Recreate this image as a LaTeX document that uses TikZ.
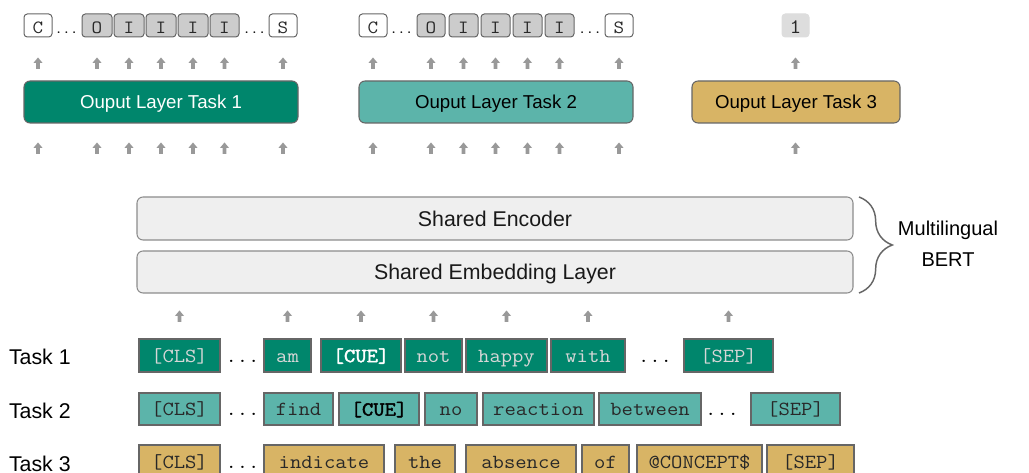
\documentclass[tikz,border=0pt]{standalone}
\usepackage{fontspec}
\setmainfont{Liberation Sans}
\setmonofont{Latin Modern Mono}[FakeStretch=1.1, BoldFont={Latin Modern Mono}, BoldFeatures={FakeBold=2.2}]
\usetikzlibrary{decorations.pathreplacing}
\definecolor{tA}{RGB}{0,134,108}
\definecolor{tB}{RGB}{92,180,170}
\definecolor{tC}{RGB}{216,180,101}
\definecolor{bord}{RGB}{102,102,102}
\definecolor{arr}{RGB}{153,153,153}
\definecolor{encf}{RGB}{239,239,239}
\definecolor{encd}{RGB}{140,140,140}
\definecolor{tokg}{RGB}{204,204,204}
\definecolor{onef}{RGB}{221,221,221}
\definecolor{lighttxt}{RGB}{215,215,215}
\definecolor{darktxt}{RGB}{40,40,40}
\newcommand\bx[7]{\node[#2, minimum width={(#5-#3)*0.75pt}, minimum height={(#6-#4)*0.75pt}] (#1) at ({(#3+#5)/2},{(#4+#6)/2}) {#7};}
\tikzset{
  every node/.style={inner sep=0pt, outer sep=0pt},
  tok/.style={draw=bord, line width=1.1pt, font={\ttfamily\fontsize{15}{16}\selectfont}, text height=10pt, text depth=0pt},
  tokA/.style={tok, fill=tA, text=lighttxt},
  tokB/.style={tok, fill=tB, text=darktxt},
  tokC/.style={tok, fill=tC, text=darktxt},
  dots/.style={font={\ttfamily\fontsize{15}{16}\selectfont}, text height=10pt, text depth=0pt, text=black},
  otok/.style={draw=bord, line width=0.75pt, rounded corners=2.5pt, fill=white, font={\ttfamily\fontsize{14}{14}\selectfont}, text height=11.5pt, text depth=0pt, text=darktxt},
  otokg/.style={otok, fill=tokg},
  onetok/.style={otok, draw=onef, fill=onef, font={\ttfamily\fontsize{15.5}{16}\selectfont}},
  tdots/.style={font={\ttfamily\fontsize{10}{11}\selectfont}, text height=11.5pt, text depth=0pt},
  outl/.style={draw=bord, line width=0.8pt, rounded corners=4.5pt, font={\fontsize{14}{16}\selectfont}, text height=10pt, text depth=0pt},
  enc/.style={draw=encd, fill=encf, line width=0.8pt, rounded corners=4.5pt, font={\fontsize{16}{18}\selectfont}, text height=11.5pt, text depth=0pt, text=black!90},
  tasklab/.style={anchor=west, font={\fontsize{16}{18}\selectfont}, text height=11.4pt, text depth=0pt},
  uparr/.pic={\fill[arr] (-1.8,0) -- (-1.8,-6) -- (-4.6,-6) -- (0,-11.5) -- (4.6,-6) -- (1.8,-6) -- (1.8,0) -- cycle;},
  brc/.style={decorate, decoration={brace, amplitude=25pt, aspect=0.5}, draw=bord, line width=1.1pt}
}
\begin{document}
\begin{tikzpicture}[x=0.75pt,y=-0.75pt]
\useasboundingbox (0,0) rectangle (1029,473);
\clip (0,0) rectangle (1029,473);

% top output tokens, task 1
\bx{c1}{otok}{24}{14}{52}{37}{C}
\bx{o1}{otokg}{82}{14}{112}{37}{O}
\bx{i1a}{otokg}{114}{14}{144}{37}{I}
\bx{i1b}{otokg}{146}{14}{176}{37}{I}
\bx{i1c}{otokg}{178}{14}{208}{37}{I}
\bx{i1d}{otokg}{210}{14}{239}{37}{I}
\bx{s1}{otok}{269}{14}{297}{37}{S}
\node[tdots] (td1) at (66.5,25.5) {...};
\node[tdots] (td2) at (254.5,25.5) {...};
% task 2
\bx{c2}{otok}{359}{14}{387}{37}{C}
\bx{o2}{otokg}{417}{14}{445}{37}{O}
\bx{i2a}{otokg}{449}{14}{478}{37}{I}
\bx{i2b}{otokg}{481}{14}{510}{37}{I}
\bx{i2c}{otokg}{513}{14}{542}{37}{I}
\bx{i2d}{otokg}{545}{14}{574}{37}{I}
\bx{s2}{otok}{605}{14}{633}{37}{S}
\node[tdots] (td3) at (401.5,25.5) {...};
\node[tdots] (td4) at (590,25.5) {...};
% task 3
\bx{one}{onetok}{782}{14}{809}{37}{1}

% output layers
\bx{out1}{outl, fill=tA, text=white}{24}{81}{298}{123}{Ouput Layer Task 1}
\bx{out2}{outl, fill=tB, text=black}{359}{81}{633}{123}{Ouput Layer Task 2}
\bx{out3}{outl, fill=tC, text=black}{692}{81}{900}{123}{Ouput Layer Task 3}

\foreach \n in {c1,o1,i1a,i1b,i1c,i1d,s1,c2,o2,i2a,i2b,i2c,i2d,s2,one} {
  \pic at (\n |- 0,69) {uparr};
  \pic at (\n |- 0,154) {uparr};
}

% shared encoder
\bx{enc}{enc}{137}{197}{853}{240}{Shared Encoder}
\bx{emb}{enc}{137}{251}{853}{293}{Shared Embedding Layer}
\draw[brc] (859,197) -- (859,293);
\node[align=center, font={\fontsize{15}{23}\selectfont}] (mb) at (948,244) {Multilingual\\BERT};

% task labels
\node[tasklab] (l1) at (9,357) {Task 1};
\node[tasklab] (l2) at (9,411) {Task 2};
\node[tasklab] (l3) at (9,463.5) {Task 3};

% row 1
\bx{cls1}{tokA}{139}{339}{220}{372}{[CLS]}
\node[dots] (d11) at (242.5,355.5) {...};
\bx{am}{tokA}{264}{339}{311}{372}{am}
\bx{cue1}{tokA, text=white}{321}{339}{401}{372}{\textbf{[CUE]}}
\bx{not}{tokA}{405}{339}{462}{372}{not}
\bx{happy}{tokA}{466}{339}{547}{372}{happy}
\bx{with}{tokA}{551}{339}{625}{372}{with}
\node[dots] (d12) at (655,355.5) {...};
\bx{sep1}{tokA}{684}{339}{773}{372}{[SEP]}

% row 2
\bx{cls2}{tokB}{139}{393}{220}{425}{[CLS]}
\node[dots] (d21) at (242.5,409) {...};
\bx{find}{tokB}{264}{393}{333}{425}{find}
\bx{cue2}{tokB, text=black}{339}{393}{419}{425}{\textbf{[CUE]}}
\bx{no}{tokB}{425}{393}{477}{425}{no}
\bx{reaction}{tokB}{483}{393}{594}{425}{reaction}
\bx{between}{tokB}{599}{393}{701}{425}{between}
\node[dots] (d22) at (722,409) {...};
\bx{sep2}{tokB}{751}{393}{840}{425}{[SEP]}

% row 3
\bx{cls3}{tokC}{139}{445}{220}{478}{[CLS]}
\node[dots] (d31) at (242.5,461.5) {...};
\bx{indicate}{tokC}{264}{445}{384}{478}{indicate}
\bx{the}{tokC}{395}{445}{455}{478}{the}
\bx{absence}{tokC}{466}{445}{576}{478}{absence}
\bx{of}{tokC}{582}{445}{629}{478}{of}
\bx{concept}{tokC}{637}{445}{762}{478}{@CONCEPT\$}
\bx{sep3}{tokC}{767}{445}{854}{478}{[SEP]}

\foreach \n in {cls1,am,cue1,not,happy,with,sep1}
  \pic at (\n |- 0,322) {uparr};
\end{tikzpicture}
\end{document}
